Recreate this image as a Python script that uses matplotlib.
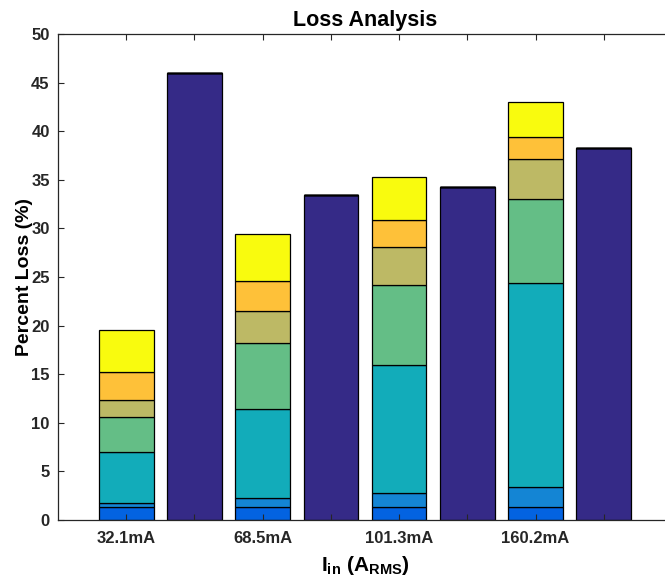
import matplotlib
matplotlib.use("Agg")
import matplotlib.pyplot as plt
import numpy as np

plt.rcParams['font.family'] = ['Liberation Sans', 'DejaVu Sans']
plt.rcParams['font.weight'] = 'bold'
plt.rcParams['mathtext.fontset'] = 'custom'
plt.rcParams['mathtext.bf'] = 'Liberation Sans:bold'
plt.rcParams['mathtext.rm'] = 'Liberation Sans:bold'
plt.rcParams['mathtext.it'] = 'Liberation Sans:bold'

positions = [1, 2, 3, 4, 5, 6, 7, 8]
tick_labels = ['32.1mA', '', '68.5mA', '', '101.3mA', '', '160.2mA', '']

# series values per bar position (stacked bottom to top)
s1 = [0, 45.95, 0, 33.4, 0, 34.23, 0, 38.24]
s2 = [1.30, 0, 1.34, 0, 1.30, 0, 1.38, 0]
s3 = [0.48, 0, 0.96, 0, 1.48, 0, 1.98, 0]
s4 = [5.18, 0, 9.12, 0, 13.2, 0, 21.0, 0]
s5 = [3.67, 0, 6.82, 0, 8.16, 0, 8.63, 0]
s6 = [1.75, 0, 3.30, 0, 3.91, 0, 4.10, 0]
s7 = [2.81, 0, 3.08, 0, 2.81, 0, 2.32, 0]
s8 = [4.36, 0, 4.77, 0, 4.39, 0, 3.59, 0]
series = [s1, s2, s3, s4, s5, s6, s7, s8]

colors = ['#352A87', '#0363E1', '#1485D4', '#12ACBA', '#64BE86',
          '#BDB965', '#FEC139', '#F9FB0E']

fig = plt.figure(figsize=(6.65, 5.81), dpi=100)
ax = fig.add_axes([58/665, 1 - 520/581, (672 - 58)/665, (520 - 34)/581])

bottom = np.zeros(len(positions))
for vals, c in zip(series, colors):
    v = np.array(vals, dtype=float)
    ax.bar(positions, v, width=0.8, bottom=bottom, color=c,
           edgecolor='black', linewidth=0.9)
    bottom += v

ax.set_xlim(0, 9)
ax.set_ylim(0, 50)
ax.set_yticks(np.arange(0, 51, 5))
ax.set_xticks(positions)
ax.set_xticklabels(tick_labels)
ax.tick_params(direction='in', top=True, right=True, length=4,
               width=0.8, colors='#262626', labelsize=12)
ax.tick_params(axis='x', pad=8)
ax.tick_params(axis='y', pad=6)
for lab in ax.get_xticklabels() + ax.get_yticklabels():
    lab.set_fontweight('bold')
for sp in ax.spines.values():
    sp.set_color('#262626')
    sp.set_linewidth(0.9)

ax.set_title('Loss Analysis', fontsize=15.5, fontweight='bold', pad=6)
ax.set_ylabel('Percent Loss (%)', fontsize=14, fontweight='bold', labelpad=-1)
ax.set_xlabel(r'$\mathbf{I_{in}\ (A_{RMS})}$', fontsize=15, labelpad=6)

fig.savefig('out.png', dpi=100)
